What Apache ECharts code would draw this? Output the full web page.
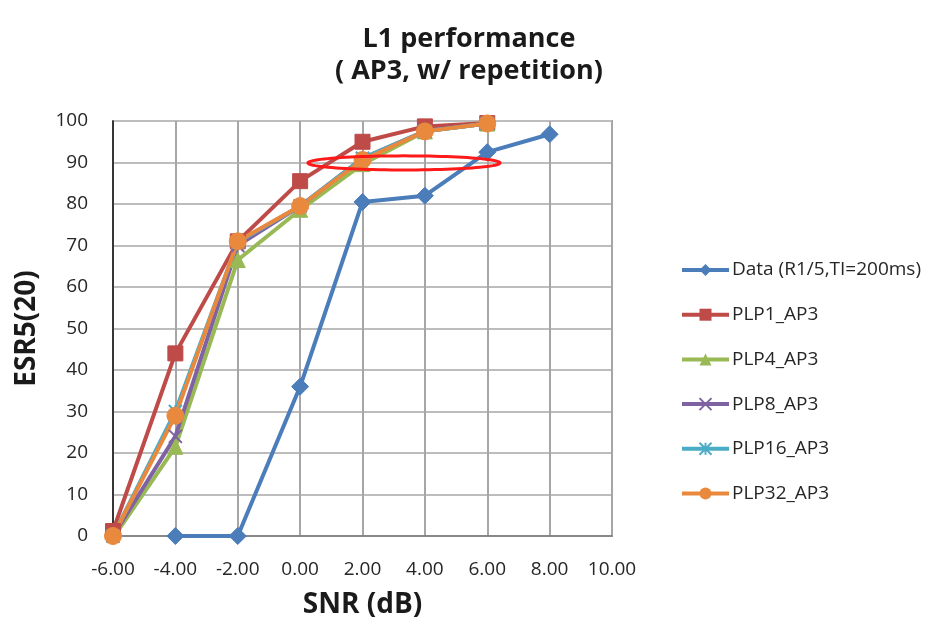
<!DOCTYPE html>
<html>
<head>
<meta charset="utf-8">
<script src="https://cdn.jsdelivr.net/npm/echarts@6/dist/echarts.min.js"></script>
<style>
  html, body { margin: 0; padding: 0; background: #fff; }
  #chart { width: 932px; height: 635px; }
</style>
</head>
<body>
<div id="chart"></div>
<script>
// SNR sweep (dB) and ESR5(20) results per configuration
const snr = [-6, -4, -2, 0, 2, 4, 6, 8];
const dataR15 = [null, 0, 0, 36, 80.5, 82, 92.5, 96.8];
const plp1 = [1.2, 44, 71, 85.5, 95, 98.7, 99.5, null];
const plp4 = [-0.5, 21.5, 66.5, 78.6, 89.6, 97.5, 99.4, null];
const plp8 = [0, 24, 70, 79.5, 91, 97.6, 99.4, null];
const plp16 = [0, 30, 70.8, 79.5, 91, 97.5, 99.4, null];
const plp32 = [0, 29, 71, 79.5, 90.6, 97.5, 99.4, null];
const xTicks = { min: -6, max: 10, step: 2 };
const yTicks = { min: 0, max: 100, step: 10 };

const FONT = '"Open Sans", "Noto Sans", sans-serif';
const TEXT = '#262626';

// Custom marker paths: an "x" cross and an asterisk
const crossPath = 'path://M0,0 L10,10 M10,0 L0,10';
const starPath = 'path://M5,0 L5,10 M0,0 L10,10 M10,0 L0,10';

function pairs(vals) {
  return snr.map((x, i) => vals[i] == null ? null : [x, vals[i]]).filter(p => p);
}

function line(name, vals, color, symbol, size, extra) {
  return Object.assign({
    name: name,
    type: 'line',
    data: pairs(vals),
    symbol: symbol,
    symbolSize: size,
    showAllSymbol: true,
    lineStyle: { color: color, width: 4 },
    itemStyle: { color: color, borderColor: color },
    z: 3
  }, extra || {});
}

const chart = echarts.init(document.getElementById('chart'));
chart.setOption({
  animation: false,
  backgroundColor: '#fff',
  title: {
    text: 'L1 performance\n( AP3, w/ repetition)',
    left: 464,
    textAlign: 'center',
    top: 18,
    textStyle: { fontFamily: FONT, fontWeight: 'bold', fontSize: 27, color: '#1a1a1a', lineHeight: 32 }
  },
  legend: {
    orient: 'vertical',
    left: 675,
    top: 255,
    itemGap: 24.7,
    itemWidth: 47,
    itemHeight: 15,
    lineStyle: { width: 4 },
    textStyle: { fontFamily: FONT, fontSize: 19, color: TEXT, lineHeight: 20, padding: [0, 0, 0, -2] },
    data: ['Data (R1/5,TI=200ms)', 'PLP1_AP3', 'PLP4_AP3', 'PLP8_AP3', 'PLP16_AP3', 'PLP32_AP3']
  },
  grid: { left: 113, right: 320, top: 121, bottom: 99, containLabel: false, show: true, borderColor: '#555', borderWidth: 1.5 },
  xAxis: {
    type: 'value',
    min: xTicks.min, max: xTicks.max, interval: xTicks.step,
    name: 'SNR (dB)',
    nameLocation: 'middle',
    nameGap: 55,
    nameTextStyle: { fontFamily: FONT, fontWeight: 'bold', fontSize: 28, color: '#1a1a1a' },
    axisLine: { onZero: false, lineStyle: { color: '#777', width: 1.5 } },
    axisTick: { show: false },
    axisLabel: { formatter: v => v.toFixed(2), fontFamily: FONT, fontSize: 19, color: TEXT, margin: 24 },
    splitLine: { lineStyle: { color: '#a6a6a6', width: 2 } }
  },
  yAxis: {
    type: 'value',
    min: yTicks.min, max: yTicks.max, interval: yTicks.step,
    name: 'ESR5(20)',
    nameLocation: 'middle',
    nameGap: 72,
    nameTextStyle: { fontFamily: FONT, fontWeight: 'bold', fontSize: 28, color: '#1a1a1a' },
    axisLine: { show: true, onZero: false, lineStyle: { color: '#111', width: 1.5 } },
    axisTick: { show: false },
    axisLabel: { fontFamily: FONT, fontSize: 19, color: TEXT, margin: 25 },
    splitLine: { lineStyle: { color: '#bdbdbd', width: 2 } }
  },
  series: [
    line('Data (R1/5,TI=200ms)', dataR15, '#4a7dba', 'diamond', 17),
    line('PLP1_AP3', plp1, '#be4b48', 'rect', 15),
    line('PLP4_AP3', plp4, '#98b954', 'triangle', 15),
    line('PLP8_AP3', plp8, '#7e62a1', crossPath, 13, { itemStyle: { color: 'none', borderColor: '#7e62a1', borderWidth: 2 } }),
    line('PLP16_AP3', plp16, '#4bacc6', starPath, 13, { itemStyle: { color: 'none', borderColor: '#4bacc6', borderWidth: 2 } }),
    line('PLP32_AP3', plp32, '#e8893e', 'circle', 17)
  ]
});

// Red highlight ellipse around the 90% level
function drawEllipse() {
  const c = chart.convertToPixel({ gridIndex: 0 }, [3.33, 89.9]);
  const e = chart.convertToPixel({ gridIndex: 0 }, [3.33 + 3.08, 89.9 + 1.7]);
  const rx = e[0] - c[0], ry = c[1] - e[1];
  const pts = [];
  for (let i = 0; i < 96; i++) {
    const a = (i / 96) * Math.PI * 2;
    pts.push([c[0] + rx * Math.cos(a), c[1] + ry * Math.sin(a)]);
  }
  chart.setOption({
    graphic: [{
      type: 'polygon',
      shape: { points: pts },
      style: { fill: 'none', stroke: '#ff1a1a', lineWidth: 3 },
      z: 100
    }]
  });
}
drawEllipse();
</script>
</body>
</html>
